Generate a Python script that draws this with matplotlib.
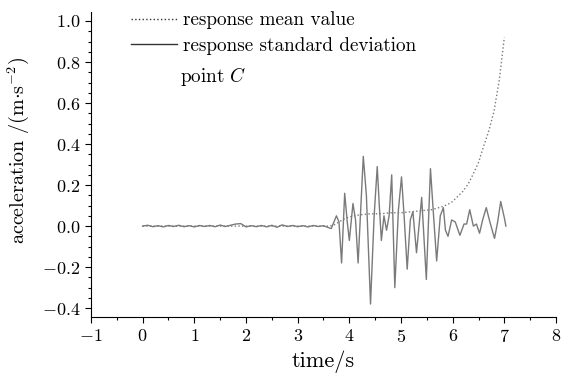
import numpy as np
import matplotlib.pyplot as plt
from matplotlib.ticker import MultipleLocator, FuncFormatter

plt.rcParams['font.family'] = 'cmr10'
plt.rcParams['mathtext.fontset'] = 'cm'
plt.rcParams['axes.formatter.use_mathtext'] = True

# response (standard deviation curve)
t_resp = [0.0, 0.1, 0.2, 0.3, 0.4, 0.5, 0.6, 0.7, 0.8, 0.9, 1.0, 1.1, 1.2, 1.3, 1.4,
          1.5, 1.6, 1.7, 1.8, 1.9, 2.0, 2.1, 2.2, 2.3, 2.4, 2.5, 2.6, 2.7, 2.8, 2.9,
          3.0, 3.1, 3.2, 3.3, 3.4, 3.5, 3.6, 3.65, 3.75, 3.80, 3.85, 3.91, 3.96, 4.00,
          4.07, 4.12, 4.17, 4.22, 4.27, 4.33, 4.41, 4.48, 4.54, 4.58, 4.62, 4.67, 4.72,
          4.77, 4.82, 4.88, 4.95, 5.01, 5.06, 5.12, 5.18, 5.23, 5.30, 5.40, 5.49, 5.57,
          5.63, 5.69, 5.76, 5.82, 5.86, 5.91, 5.98, 6.05, 6.14, 6.22, 6.27, 6.33, 6.40,
          6.46, 6.52, 6.58, 6.65, 6.72, 6.81, 6.87, 6.93, 7.00, 7.03]
a_resp = [0.000, 0.004, -0.003, 0.002, -0.004, 0.003, -0.002, 0.004, -0.003, 0.002,
          -0.004, 0.003, -0.002, 0.003, -0.003, 0.005, -0.002, 0.004, 0.010, 0.012,
          -0.004, 0.002, -0.003, 0.003, -0.004, 0.004, -0.006, 0.006, -0.002, 0.003,
          -0.003, 0.002, -0.004, 0.003, -0.002, 0.002, -0.008, -0.012, 0.05, 0.02,
          -0.18, 0.16, 0.02, -0.07, 0.11, 0.03, -0.18, 0.08, 0.34, 0.15, -0.38, 0.05,
          0.29, 0.10, -0.07, 0.05, -0.02, 0.05, 0.25, -0.30, 0.08, 0.24, 0.05, -0.21,
          0.03, 0.07, -0.13, 0.14, -0.26, 0.28, 0.05, -0.17, 0.05, 0.09, -0.02, -0.05,
          0.03, 0.02, -0.045, 0.01, 0.01, 0.08, 0.00, 0.01, -0.035, 0.03, 0.09, 0.02,
          -0.06, 0.02, 0.12, 0.04, 0.00]

# response mean value
t_mean = [0.0, 3.6, 3.7, 3.8, 3.9, 4.0, 4.2, 4.4, 4.6, 4.8, 5.0, 5.2, 5.4, 5.6, 5.8,
          5.9, 6.0, 6.1, 6.2, 6.3, 6.4, 6.5, 6.6, 6.7, 6.8, 6.9, 7.0]
a_mean = [0.0, 0.0, 0.005, 0.02, 0.035, 0.045, 0.055, 0.06, 0.06, 0.065, 0.065, 0.07,
          0.075, 0.08, 0.095, 0.105, 0.12, 0.145, 0.17, 0.205, 0.255, 0.31, 0.39,
          0.465, 0.56, 0.71, 0.92]

fig = plt.figure(figsize=(5.63, 3.74), dpi=100)
ax = fig.add_axes([0.1616, 0.152, 0.826, 0.816])

ax.plot(t_mean, a_mean, ':', color='#7a7a7a', lw=1.0, label='response mean value')
ax.plot(t_resp, a_resp, '-', color='#7a7a7a', lw=1.0, label='response standard deviation')

ax.set_xlim(-1, 8)
ax.set_ylim(-0.444, 1.044)
ax.xaxis.set_major_locator(MultipleLocator(1))
ax.xaxis.set_minor_locator(MultipleLocator(0.5))
ax.yaxis.set_major_locator(MultipleLocator(0.2))
ax.yaxis.set_minor_locator(MultipleLocator(0.05))
ax.xaxis.set_major_formatter(FuncFormatter(lambda v, p: f'${v:.0f}$'))
ax.yaxis.set_major_formatter(FuncFormatter(lambda v, p: f'${v:.1f}$'))
for s in ['top', 'right']:
    ax.spines[s].set_visible(False)
ax.tick_params(which='major', direction='out', length=4, width=0.8, labelsize=13)
ax.tick_params(which='minor', direction='out', length=2, width=0.8)

ax.set_xlabel('time/s', fontsize=16, labelpad=4)
ax.set_ylabel(r'acceleration /$(\mathrm{m{\cdot}s^{-2}})$', fontsize=14.5)
ax.yaxis.set_label_coords(-0.13, 0.545)

leg = ax.legend(loc='upper left', bbox_to_anchor=(0.05, 1.058), frameon=False,
                fontsize=13.8, handlelength=2.4, handletextpad=0.3, labelspacing=0.4)
for h in leg.get_lines():
    h.set_color('#333333')
ax.text(0.191, 0.79, r'point $C$', transform=ax.transAxes, fontsize=13.8,
        ha='left', va='center')

fig.savefig('out.png', dpi=100)
